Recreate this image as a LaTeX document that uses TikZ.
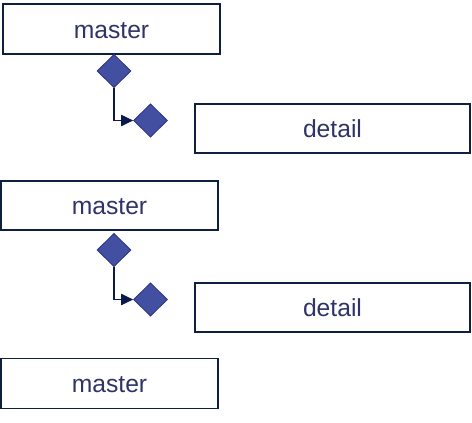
\documentclass[tikz,border=0pt]{standalone}
\usepackage{fontspec}
\setmainfont{Liberation Sans}
\usetikzlibrary{shapes.geometric,arrows.meta}
\definecolor{boxline}{HTML}{0F1F40}
\definecolor{txt}{HTML}{2F3468}
\definecolor{dfill}{HTML}{4350A2}
\definecolor{dline}{HTML}{2C3680}
\definecolor{arr}{HTML}{0A1A50}
\tikzset{
  lbox/.style={draw=boxline,line width=1pt,fill=white,inner sep=0pt,text=txt,font=\fontsize{18.5}{20}\selectfont,text height=13.5pt,text depth=0pt},
  dia/.style={diamond,draw=dline,line width=0.6pt,fill=dfill,inner sep=0pt,minimum width=25.5pt,minimum height=25pt},
  conn/.style={draw=arr,line width=0.8pt,-{Triangle[length=9pt,width=8.5pt]}}
}
\begin{document}
\begin{tikzpicture}[x=0.75pt,y=-0.75pt]
\useasboundingbox (0,0) rectangle (472,422);
\node[lbox,minimum width=162.75pt,minimum height=37.5pt] (m1) at (111.5,29) {master};
\node[lbox,minimum width=206.25pt,minimum height=36.75pt] (d1) at (332.5,128.5) {detail};
\node[lbox,minimum width=162.75pt,minimum height=36.75pt] (m2) at (109.5,205.5) {master};
\node[lbox,minimum width=206.25pt,minimum height=36.75pt] (d2) at (332.5,307.5) {detail};
\node[lbox,minimum width=162.75pt,minimum height=37.5pt] (m3) at (109.5,383.5) {master};
\node[dia] (a1) at (114,71) {};
\node[dia] (b1) at (150.5,120.5) {};
\node[dia] (a2) at (114,250) {};
\node[dia] (b2) at (150.5,299.5) {};
\draw[conn] (a1.south) |- (b1.west);
\draw[conn] (a2.south) |- (b2.west);
\end{tikzpicture}
\end{document}
